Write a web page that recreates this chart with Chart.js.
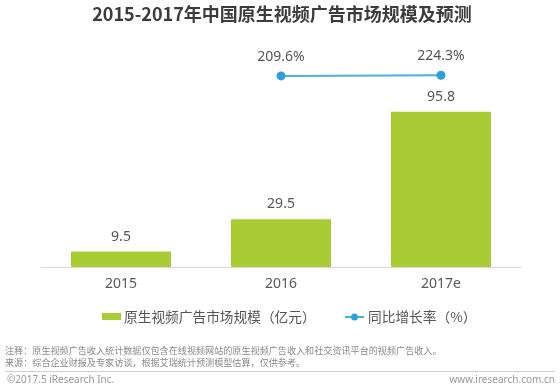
<!DOCTYPE html>
<html>
<head>
<meta charset="utf-8">
<script src="https://cdn.jsdelivr.net/npm/chart.js@4/dist/chart.umd.min.js"></script>
<style>
  html, body { margin: 0; padding: 0; background: #ffffff; }
  #wrap { width: 560px; height: 387px; position: relative; }
</style>
</head>
<body>
<div id="wrap"><canvas id="c" width="560" height="387"></canvas></div>
<script>
const titleText = '2015-2017年中国原生视频广告市场规模及预测';
const categories = ['2015', '2016', '2017e'];
const marketSize = [9.5, 29.5, 95.8];
const growthRate = [null, 209.6, 224.3];
const seriesNames = ['原生视频广告市场规模（亿元）', '同比增长率（%）'];
const noteLines = [
  '注释：原生视频广告收入统计数据仅包含在线视频网站的原生视频广告收入和社交资讯平台的视频广告收入。',
  '来源：综合企业财报及专家访谈，根据艾瑞统计预测模型估算，仅供参考。'
];
const copyrightText = '©2017.5 iResearch Inc.';
const siteText = 'www.iresearch.com.cn';

const BAR_COLOR = '#a9cb33';
const LINE_COLOR = '#45b3d6';
const POINT_COLOR = '#2ea0dc';
const FONT = "'Noto Sans', 'Noto Sans CJK SC', sans-serif";
const CJK = "'Noto Sans CJK SC', 'Noto Sans', sans-serif";

const decorPlugin = {
  id: 'decor',
  afterDatasetsDraw(chart) {
    const ctx = chart.ctx;
    ctx.save();
    const barMeta = chart.getDatasetMeta(0);
    ctx.font = '14px ' + FONT;
    ctx.fillStyle = '#555555';
    ctx.textAlign = 'center';
    ctx.textBaseline = 'middle';
    barMeta.data.forEach((el, i) => {
      ctx.fillText(String(chart.data.datasets[0].data[i]), el.x, el.y - 15);
    });
    const lineMeta = chart.getDatasetMeta(1);
    lineMeta.data.forEach((el, i) => {
      const v = chart.data.datasets[1].data[i];
      if (v == null) return;
      ctx.fillText(v.toFixed(1) + '%', el.x, el.y - 19);
    });
    ctx.restore();
  },
  afterDraw(chart) {
    const ctx = chart.ctx;
    ctx.save();
    ctx.font = 'bold 18px ' + CJK;
    ctx.fillStyle = '#3c3c3c';
    ctx.textAlign = 'center';
    ctx.textBaseline = 'middle';
    ctx.fillText(titleText, 282, 14);

    const ds = chart.data.datasets;
    ctx.font = '13.7px ' + CJK;
    ctx.textAlign = 'left';
    const ly = 317;
    ctx.fillStyle = ds[0].backgroundColor;
    ctx.fillRect(102, ly - 4, 19, 7);
    ctx.fillStyle = '#555555';
    ctx.fillText(ds[0].label, 124, ly);
    ctx.strokeStyle = ds[1].borderColor;
    ctx.lineWidth = 2;
    ctx.beginPath();
    ctx.moveTo(345, ly);
    ctx.lineTo(364, ly);
    ctx.stroke();
    ctx.fillStyle = ds[1].pointBackgroundColor;
    ctx.beginPath();
    ctx.arc(354.5, ly, 3.5, 0, Math.PI * 2);
    ctx.fill();
    ctx.fillStyle = '#555555';
    ctx.fillText(ds[1].label, 368, ly);

    ctx.font = '9.1px ' + CJK;
    ctx.fillStyle = '#8a8a8a';
    ctx.fillText(noteLines[0], 5, 351);
    ctx.fillText(noteLines[1], 5, 363);
    ctx.strokeStyle = '#cfcfcf';
    ctx.lineWidth = 1;
    ctx.beginPath();
    ctx.moveTo(5, 371.5);
    ctx.lineTo(555, 371.5);
    ctx.stroke();
    ctx.font = '10px ' + FONT;
    ctx.fillStyle = '#9a9a9a';
    ctx.fillText(copyrightText, 7, 380);
    ctx.textAlign = 'right';
    ctx.fillText(siteText, 555, 380);
    ctx.restore();
  }
};

new Chart(document.getElementById('c'), {
  data: {
    labels: categories,
    datasets: [
      {
        type: 'bar',
        label: seriesNames[0],
        data: marketSize,
        backgroundColor: BAR_COLOR,
        yAxisID: 'y',
        categoryPercentage: 1,
        barPercentage: 0.625,
        order: 1
      },
      {
        type: 'line',
        label: seriesNames[1],
        data: growthRate,
        borderColor: LINE_COLOR,
        backgroundColor: LINE_COLOR,
        pointBackgroundColor: POINT_COLOR,
        pointBorderColor: POINT_COLOR,
        pointRadius: 3.5,
        borderWidth: 2,
        yAxisID: 'y1',
        order: 0
      }
    ]
  },
  options: {
    responsive: false,
    animation: false,
    devicePixelRatio: 1,
    layout: { padding: { left: 41, right: 39, top: 40, bottom: 90 } },
    plugins: {
      legend: { display: false },
      title: { display: false },
      tooltip: { enabled: false }
    },
    scales: {
      x: {
        grid: { display: false, drawTicks: false },
        border: { display: true, color: '#d9d9d9', width: 1 },
        ticks: { color: '#595959', font: { size: 14, family: FONT }, padding: 9 },
        afterFit(scale) { scale.height = 30; }
      },
      y: {
        display: false,
        min: 0,
        max: 140
      },
      y1: {
        display: false,
        min: -4000,
        max: 1000
      }
    }
  },
  plugins: [decorPlugin]
});
</script>
</body>
</html>
